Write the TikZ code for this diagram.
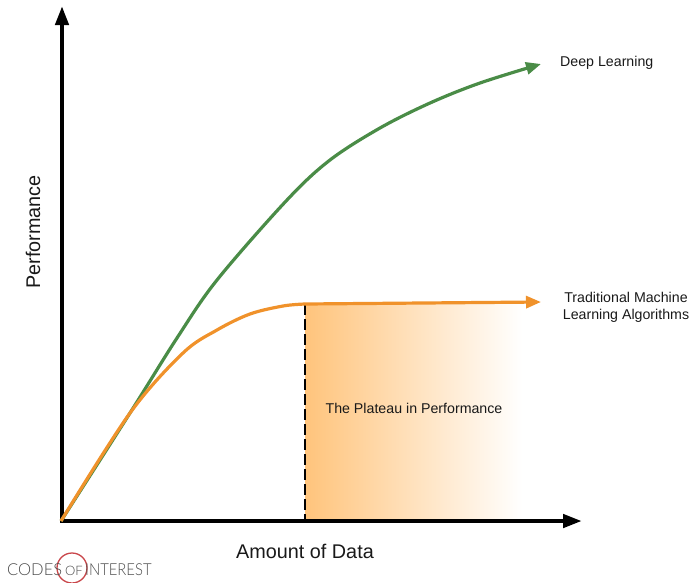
\documentclass[tikz,border=0pt]{standalone}
\usepackage{fontspec}
\setmainfont{Liberation Sans}
\newfontfamily\logofont{Lato Light}
\usetikzlibrary{arrows.meta}
\definecolor{dlgreen}{HTML}{4A8C47}
\definecolor{mlorange}{HTML}{F0922B}
\definecolor{plateau}{HTML}{FFC47C}
\definecolor{logored}{HTML}{C9474B}
\definecolor{logogray}{HTML}{4A4A4A}
\tikzset{
  axisline/.style={line width=4.4pt,-{Triangle[length=19pt,width=13pt]}},
  curve/.style={line width=3.2pt,-{Triangle[length=15pt,width=12pt]}},
  lab/.style={font=\fontsize{14.2}{17}\selectfont,text=black!90,inner sep=0pt,align=center},
  axislab/.style={font=\fontsize{19.8}{23}\selectfont,text=black!90,inner sep=0pt},
  logotxt/.style={font=\logofont\fontsize{16.5}{18}\selectfont,text=logogray,inner sep=0pt,anchor=base west}
}
\begin{document}
\begin{tikzpicture}[x=1pt,y=-1pt]
\useasboundingbox (0,0) rectangle (691,582);
\coordinate (o) at (62,521);
\coordinate (ytip) at (62,6);
\coordinate (xtip) at (582,521);
\coordinate (knee) at (305,304);
\coordinate (floor) at (305,521);
\coordinate (dltip) at (541,64);
\coordinate (mltip) at (541,302);
% plateau
\shade[left color=plateau,right color=white,shading angle=90,draw=none] (305,304) rectangle (522,520);
\draw[axisline] (o) -- (ytip);
\draw[axisline] ([xshift=-2.2pt]o) -- (xtip);
\draw[line width=1.5pt,dash pattern=on 11pt off 4pt] (knee) -- (floor);
\draw[curve,dlgreen] plot[smooth,tension=0.55] coordinates {(61,521) (130,413) (177,338) (217,280) (287,200) (330,160) (380,128) (430,103) (480,83) (dltip)};
\draw[line width=3.2pt,mlorange] plot[smooth,tension=0.55] coordinates {(61,521) (130,413) (183,353) (217,330) (250,314) (283,306) (knee)};
\draw[curve,mlorange] (knee) -- (mltip);
\node[lab,anchor=west] (dl) at (560,63) {Deep Learning};
\node[lab] (ml) at (626,307) {Traditional Machine\\Learning Algorithms};
\node[lab] (pl) at (414,408) {The Plateau in Performance};
\node[axislab,rotate=90] (perf) at (33,232) {Performance};
\node[axislab] (amt) at (305,551) {Amount of Data};
\draw[logored,line width=1.3pt] (72,568) circle (15);
\node[logotxt] (c) at (7,575) {CODES};
\node[logotxt,font=\logofont\fontsize{13}{14}\selectfont] (of) at (65,575) {OF};
\node[logotxt,xscale=0.9] (i) at (85,575) {INTEREST};
\end{tikzpicture}
\end{document}
